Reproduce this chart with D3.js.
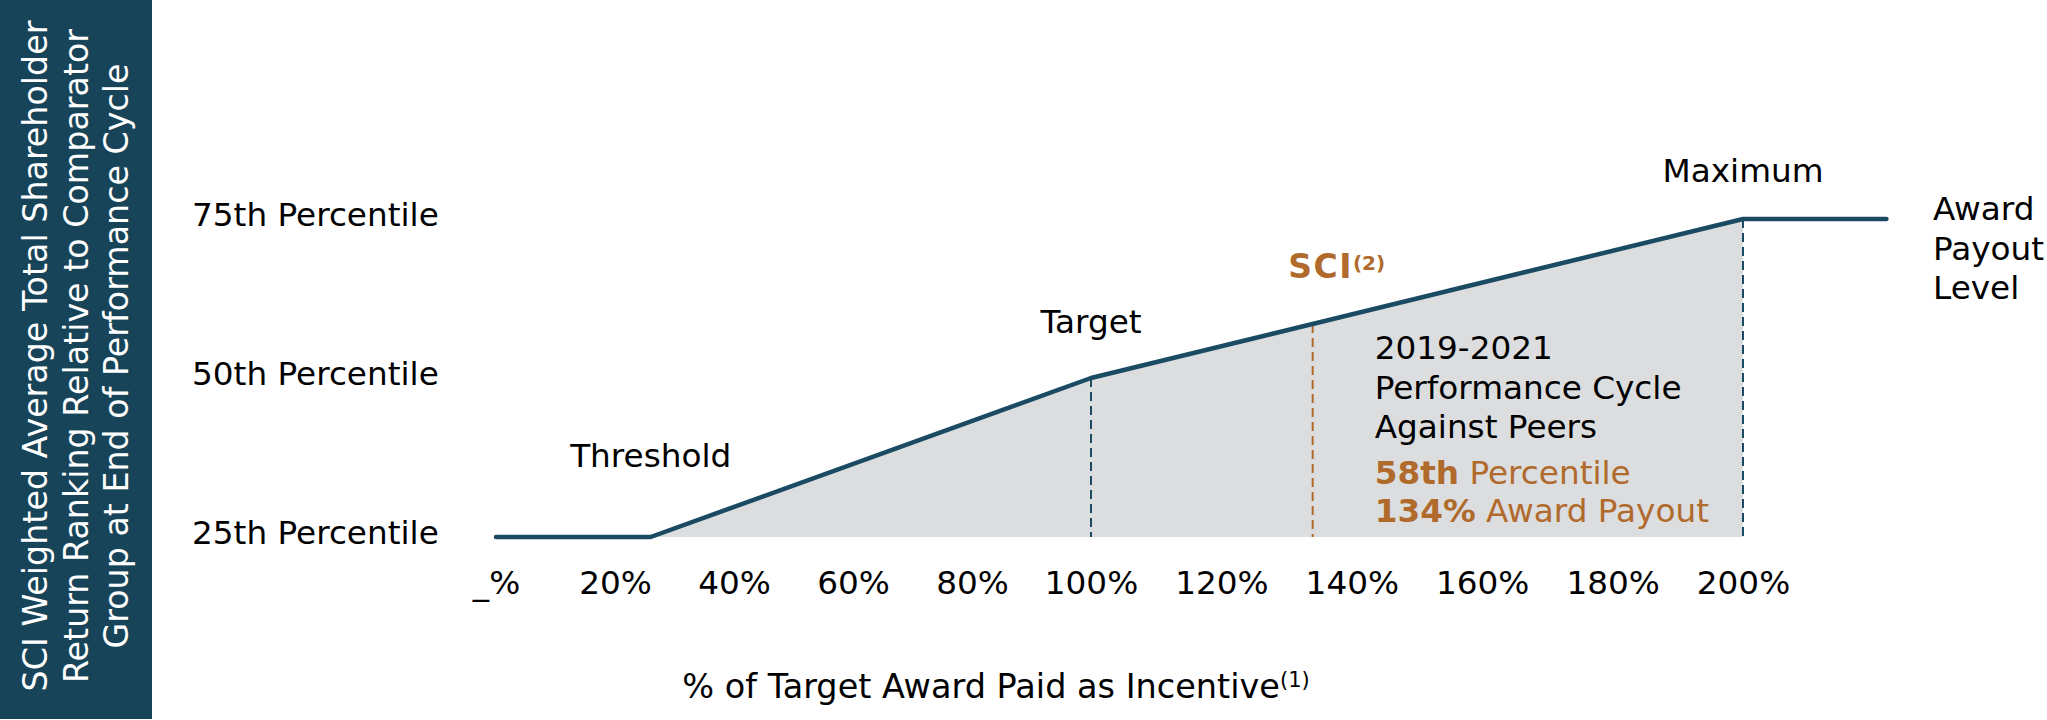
<!DOCTYPE html>
<html><head><meta charset="utf-8">
<script src="https://cdn.jsdelivr.net/npm/d3@7"></script>
<style>
html,body{margin:0;padding:0;background:#fff;}
svg{display:block;font-family:"DejaVu Sans",Verdana,sans-serif;}
</style></head><body>
<svg id="chart" width="2047" height="720"></svg>
<script>
// ---- data ----
const payoutPct = [0, 26, 100, 200, 222];
const rankPercentile = [25, 25, 50, 75, 75];
const xTickValues = [0, 20, 40, 60, 80, 100, 120, 140, 160, 180, 200];
const xTickLabels = ["_%", "20%", "40%", "60%", "80%", "100%", "120%", "140%", "160%", "180%", "200%"];
const yTickValues = [25, 50, 75];
const yTickLabels = ["25th Percentile", "50th Percentile", "75th Percentile"];
const milestoneNames = ["Threshold", "Target", "Maximum"];
const milestonePayout = [26, 100, 200];
const milestonePercentile = [25, 50, 75];
const sciPayout = 134;
const sciPercentileLabel = "58th";
const sciPayoutLabel = "134%";
const yAxisTitleLines = ["SCI Weighted Average Total Shareholder", "Return Ranking Relative to Comparator", "Group at End of Performance Cycle"];
const xAxisTitle = "% of Target Award Paid as Incentive";
const xAxisNote = "(1)";
const sciName = "SCI";
const sciNote = "(2)";
const cycleLines = ["2019-2021", "Performance Cycle", "Against Peers"];
const rightLabelLines = ["Award", "Payout", "Level"];

// ---- style ----
const FS = 32.7;
const NAVY = "#1a4b63";
const BOX = "#174459";
const GREY = "#dcdddf";
const ORANGE = "#b06b2c";

const svg = d3.select("#chart");
const x = d3.scaleLinear().domain([0, 100, 200]).range([496, 1091, 1743]);
const y = d3.scaleLinear().domain([25, 75]).range([537, 219]);
const lineAt = d3.scaleLinear().domain(payoutPct).range(rankPercentile);
const idx = d3.range(payoutPct.length);

// sidebar
svg.append("rect").attr("x", 0).attr("y", 0).attr("width", 152).attr("height", 719).attr("fill", BOX);
yAxisTitleLines.forEach((t, i) => {
  svg.append("text")
    .attr("transform", `translate(${47 + i * 40.5},356) rotate(-90)`)
    .attr("text-anchor", "middle").attr("fill", "#fff").attr("font-size", 33.3)
    .text(t);
});

// area under curve
const areaIdx = idx.filter(i => payoutPct[i] <= 200);
svg.append("path").datum(areaIdx)
  .attr("d", d3.area().x(i => x(payoutPct[i])).y0(y(25)).y1(i => y(rankPercentile[i])))
  .attr("fill", GREY);

// dashed milestone verticals
[1, 2].forEach(k => {
  svg.append("line")
    .attr("x1", x(milestonePayout[k])).attr("x2", x(milestonePayout[k]))
    .attr("y1", y(milestonePercentile[k])).attr("y2", y(25))
    .attr("stroke", NAVY).attr("stroke-width", 2).attr("stroke-dasharray", "9,5");
});

// SCI dashed
const sx = x(sciPayout), sy = y(lineAt(sciPayout));
svg.append("line").attr("x1", sx).attr("x2", sx).attr("y1", sy).attr("y2", y(25))
  .attr("stroke", ORANGE).attr("stroke-width", 2).attr("stroke-dasharray", "9,5");

// main line
svg.append("path").datum(idx)
  .attr("d", d3.line().x(i => x(payoutPct[i])).y(i => y(rankPercentile[i])))
  .attr("fill", "none").attr("stroke", NAVY).attr("stroke-width", 4.5)
  .attr("stroke-linejoin", "round").attr("stroke-linecap", "round");

// x axis labels
const gx = svg.append("g").attr("transform", "translate(0,570)")
  .call(d3.axisBottom(x).tickValues(xTickValues)
    .tickFormat(d => xTickLabels[xTickValues.indexOf(d)]).tickSize(0).tickPadding(0));
gx.select(".domain").remove();
gx.attr("font-size", FS).attr("font-family", "DejaVu Sans, Verdana, sans-serif");
gx.selectAll("text").attr("dy", null).attr("y", 24).attr("fill", "#000");

// y axis labels
const gy = svg.append("g").attr("transform", "translate(192,0)")
  .call(d3.axisRight(y).tickValues(yTickValues)
    .tickFormat(d => yTickLabels[yTickValues.indexOf(d)]).tickSize(0).tickPadding(0));
gy.select(".domain").remove();
gy.attr("font-size", FS).attr("font-family", "DejaVu Sans, Verdana, sans-serif");
gy.selectAll("text").attr("dy", null).attr("y", 6).attr("fill", "#000").attr("text-anchor", "start");

// milestone labels
const milestoneDy = [-70, -45, -37];
milestoneNames.forEach((n, i) => {
  svg.append("text").attr("x", x(milestonePayout[i])).attr("y", y(milestonePercentile[i]) + milestoneDy[i])
    .attr("text-anchor", "middle").attr("font-size", FS).attr("fill", "#000").text(n);
});

// SCI label
const sciT = svg.append("text").attr("x", sx + 24).attr("y", 278)
  .attr("text-anchor", "middle").attr("fill", ORANGE).attr("font-weight", "bold").attr("font-size", 33)
  .attr("letter-spacing", 1.5);
sciT.append("tspan").text(sciName);
sciT.append("tspan").attr("font-size", 20).attr("dy", -8).attr("letter-spacing", 0).text(sciNote);

// cycle text block
const bx = sx + 62;
const blockY = [359, 398.5, 438];
cycleLines.forEach((t, i) => {
  svg.append("text").attr("x", bx).attr("y", blockY[i]).attr("font-size", FS).attr("fill", "#000").text(t);
});
const r1 = svg.append("text").attr("x", bx).attr("y", 484).attr("font-size", FS).attr("fill", ORANGE);
r1.append("tspan").attr("font-weight", "bold").text(sciPercentileLabel);
r1.append("tspan").text(" Percentile");
const r2 = svg.append("text").attr("x", bx).attr("y", 522).attr("font-size", FS).attr("fill", ORANGE);
r2.append("tspan").attr("font-weight", "bold").text(sciPayoutLabel);
r2.append("tspan").text(" Award Payout");

// right label
rightLabelLines.forEach((t, i) => {
  svg.append("text").attr("x", 1933).attr("y", y(75) + 1 + i * 39.5).attr("font-size", FS).attr("fill", "#000").text(t);
});

// x axis title
const xt = svg.append("text").attr("x", 996).attr("y", 698).attr("text-anchor", "middle")
  .attr("font-size", 33.5).attr("fill", "#000");
xt.append("tspan").text(xAxisTitle);
xt.append("tspan").attr("font-size", 21).attr("dy", -11).text(xAxisNote);
</script>
</body></html>
